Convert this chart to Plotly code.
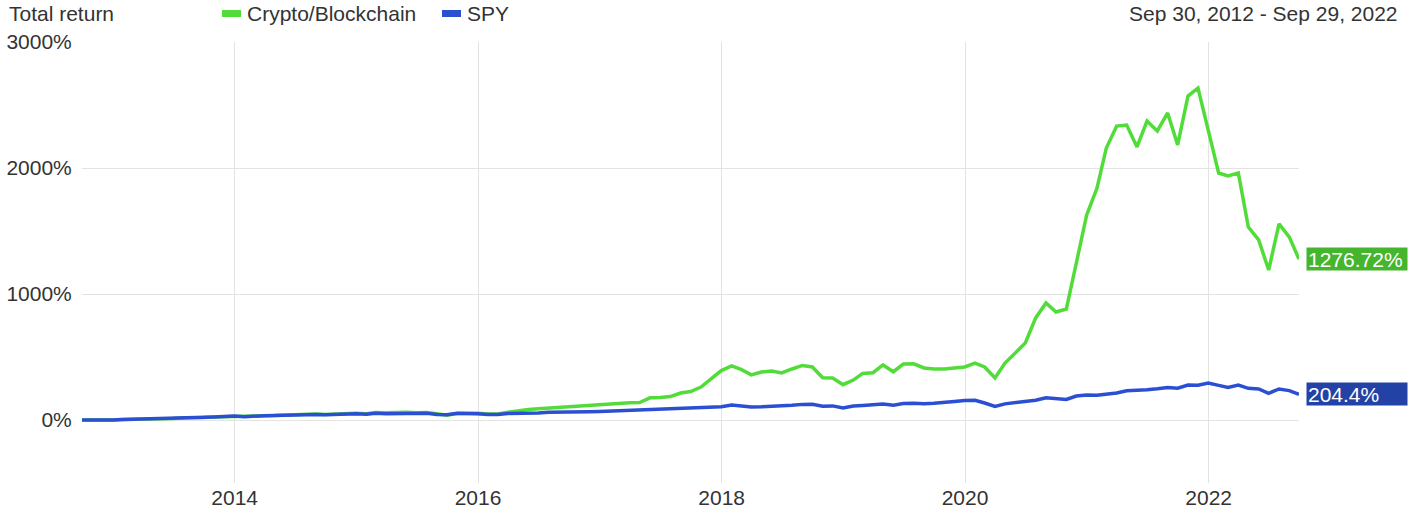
import plotly.graph_objects as go
import pandas as pd

# ---------------- data (monthly total return, %) ----------------
start_date = "2012-09-30"
end_date = "2022-09-29"
n_months = 121

crypto = [
    0, -2, -1, 0, 4, 5, 9, 10, 13, 12, 18, 15, 19, 24, 27, 31,            # Sep12-Dec13
    28, 34, 34, 35, 39, 43, 41, 47, 44, 48, 54, 53,                      # 2014
    50, 60, 58, 60, 61, 57, 60, 49, 37, 52, 54, 53,                      # 2015
    47, 48, 62, 75, 84, 90, 96, 101, 104, 110, 116, 124,                 # 2016
    128, 134, 137, 139, 176, 178, 186, 214, 226, 261, 322, 392,          # 2017
    429, 402, 358, 381, 389, 373, 405, 433, 421, 336, 333, 280,          # 2018
    317, 370, 375, 437, 383, 444, 446, 413, 405, 405, 413, 421,          # 2019
    452, 421, 333, 452, 532, 611, 810, 929, 857, 881, 1246, 1627,        # 2020
    1841, 2159, 2333, 2341, 2167, 2373, 2294, 2437, 2183, 2571, 2635, 2286,  # 2021
    1960, 1937, 1960, 1532, 1429, 1190, 1556, 1452, 1276.72,             # 2022
]

spy = [
    0, -1.5, -1, -0.5, 4.5, 6, 10, 12, 14.5, 13, 19, 15.5, 19, 24.5, 28, 31,   # Sep12-Dec13
    26.5, 32.5, 34, 35, 38, 40.5, 39, 44.5, 42, 46, 50, 49,                  # 2014
    45, 53.5, 50.5, 52, 54, 50.5, 54, 44.5, 41, 53, 54, 50.5,                # 2015
    43, 43, 52.5, 53, 56, 56.5, 62, 62.5, 62.5, 59.5, 65.5, 68,              # 2016
    71, 77.5, 78, 80, 83, 84, 88, 88.5, 93, 97.5, 103, 105,                  # 2017
    118, 109, 104, 105, 108, 110, 117, 124, 125, 109, 112, 95,               # 2018
    111, 116, 119, 127, 118, 130, 132, 129, 133, 138, 147, 155,              # 2019
    156, 135, 107, 128, 139, 143, 157, 177, 168, 163, 190, 198,              # 2020
    196, 205, 215, 232, 234, 240, 248, 258, 252, 277, 276, 294,              # 2021
    275, 259, 278, 251, 246, 212, 246, 233, 204.4,                           # 2022
]

series_names = ["Crypto/Blockchain", "SPY"]
end_labels = ["1276.72%", "204.4%"]
y_tick_vals = [0, 1000, 2000, 3000]
y_tick_text = ["0%", "1000%", "2000%", "3000%"]
x_tick_vals = ["2014-01-01", "2016-01-01", "2018-01-01", "2020-01-01", "2022-01-01"]
x_tick_text = ["2014", "2016", "2018", "2020", "2022"]
header_left = "Total return"
header_right = "Sep 30, 2012 - Sep 29, 2022"

# ---------------- styling ----------------
W, H = 1410, 518
L, R, T, B = 82, 111, 42, 35
FONT = "Liberation Sans, Arial, sans-serif"
FS = 21
TXT = "#333333"
GRID = "#e3e3e3"
line_colors = ["#52dc3a", "#2b4fd2"]
box_colors = ["#45b52d", "#2342a6"]

pw = W - L - R
ph = H - T - B


def px_x(px):
    return (px - L) / pw


def px_y(py):
    return (H - B - py) / ph


dates = list(pd.date_range(start=start_date, periods=n_months, freq=pd.offsets.MonthEnd()))
dates[-1] = pd.Timestamp(end_date)

fig = go.Figure()
for name, vals, col in zip(series_names, [crypto, spy], line_colors):
    fig.add_trace(go.Scatter(x=dates, y=vals, mode="lines", name=name,
                             line=dict(color=col, width=3.5), showlegend=False))

annotations = []
shapes = []
# header texts
annotations.append(dict(x=px_x(7), y=px_y(13), xref="paper", yref="paper",
                        text=header_left, showarrow=False, xanchor="left", yanchor="middle",
                        font=dict(size=FS, color=TXT, family=FONT)))
annotations.append(dict(x=px_x(1400), y=px_y(13), xref="paper", yref="paper",
                        text=header_right, showarrow=False, xanchor="right", yanchor="middle",
                        font=dict(size=FS, color=TXT, family=FONT)))
# legend (swatches + names)
legend_swatch_x = [222, 442]
for name, col, sx in zip(series_names, line_colors, legend_swatch_x):
    shapes.append(dict(type="rect", xref="paper", yref="paper",
                       x0=px_x(sx), x1=px_x(sx + 19), y0=px_y(17), y1=px_y(10),
                       fillcolor=col, line=dict(width=0)))
    annotations.append(dict(x=px_x(sx + 23), y=px_y(13), xref="paper", yref="paper",
                            text=name, showarrow=False, xanchor="left", yanchor="middle",
                            font=dict(size=FS, color=TXT, family=FONT)))
# end-value labels
for vals, lab, bc in zip([crypto, spy], end_labels, box_colors):
    annotations.append(dict(x=px_x(1306), y=vals[-1], xref="paper", yref="y",
                            text=lab, showarrow=False, xanchor="left", yanchor="middle",
                            align="left", width=98, height=20, bgcolor=bc, borderpad=1,
                            font=dict(size=FS, color="white", family=FONT)))

fig.update_layout(
    width=W, height=H,
    margin=dict(l=L, r=R, t=T, b=B, pad=0, autoexpand=False),
    paper_bgcolor="white", plot_bgcolor="white",
    font=dict(family=FONT, size=FS, color=TXT),
    annotations=annotations, shapes=shapes,
    showlegend=False,
)
fig.update_xaxes(type="date", range=[start_date, end_date], automargin=False,
                 tickvals=x_tick_vals, ticktext=x_tick_text,
                 showgrid=True, gridcolor=GRID, gridwidth=1,
                 zeroline=False, showline=False, ticks="",
                 tickfont=dict(size=FS, color=TXT, family=FONT))
fig.update_yaxes(range=[-500, 3000], automargin=False,
                 tickvals=y_tick_vals, ticktext=y_tick_text,
                 showgrid=True, gridcolor=GRID, gridwidth=1,
                 zeroline=False, showline=False,
                 ticks="outside", ticklen=5, tickcolor="rgba(0,0,0,0)",
                 tickfont=dict(size=FS, color=TXT, family=FONT))

fig.write_html("out.html", config={"displayModeBar": False},
               post_script="document.body.style.margin='0';")
